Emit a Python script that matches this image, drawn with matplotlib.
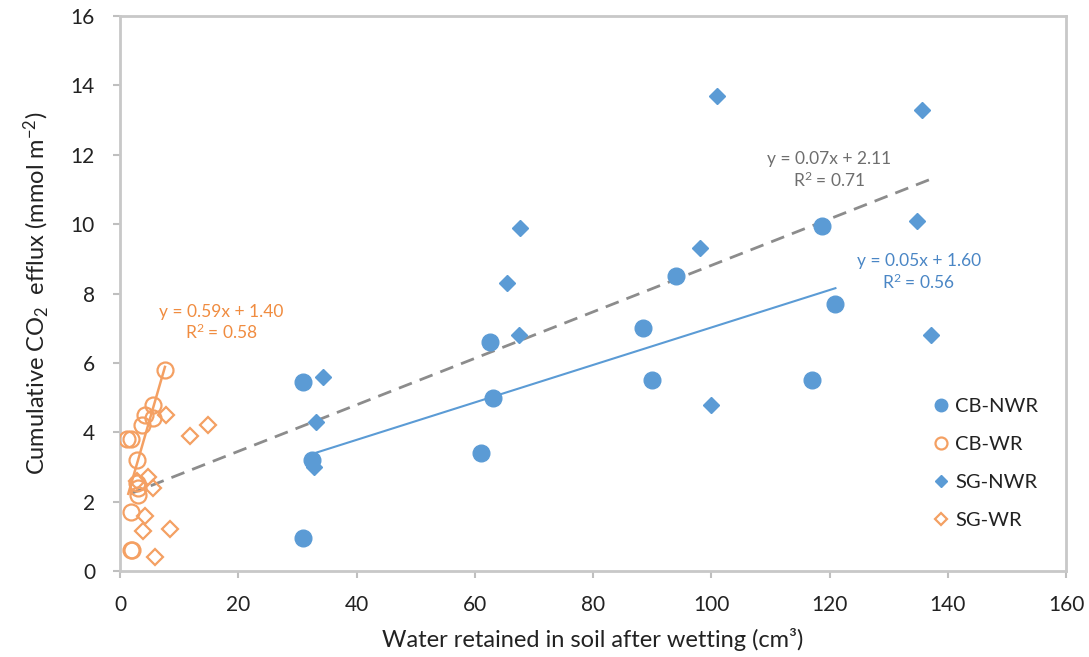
import numpy as np
import matplotlib
matplotlib.use("Agg")
import matplotlib.pyplot as plt

plt.rcParams['font.family'] = ['Lato', 'DejaVu Sans']
plt.rcParams['mathtext.default'] = 'regular'

# data
cb_nwr_x = [31, 31, 32.5, 61, 62.5, 63, 88.5, 90, 94, 117, 118.7, 121]
cb_nwr_y = [0.95, 5.45, 3.2, 3.4, 6.6, 5.0, 7.0, 5.5, 8.5, 5.5, 9.95, 7.7]

cb_wr_x = [7.6, 5.6, 4.2, 5.6, 3.7, 1.2, 1.9, 2.8, 2.8, 3.0, 3.0, 1.8, 1.9, 2.1]
cb_wr_y = [5.8, 4.8, 4.5, 4.4, 4.2, 3.8, 3.8, 3.2, 2.55, 2.4, 2.2, 1.7, 0.6, 0.6]

sg_nwr_x = [33.2, 32.8, 34.3, 65.5, 67.6, 67.5, 98.1, 100, 101, 134.8, 135.6, 137.2]
sg_nwr_y = [4.3, 3.0, 5.6, 8.3, 9.9, 6.8, 9.3, 4.8, 13.7, 10.1, 13.3, 6.8]

sg_wr_x = [7.8, 11.8, 14.8, 4.8, 5.6, 4.2, 3.9, 8.4, 5.9, 2.8]
sg_wr_y = [4.5, 3.9, 4.2, 2.7, 2.4, 1.6, 1.15, 1.2, 0.4, 2.6]

# trendlines as drawn (slope, intercept, x from, x to)
trend_all = (0.067, 2.11, 1.7, 137.3)
trend_cb_nwr = (0.054, 1.62, 32.6, 121)
trend_cb_wr = (0.59, 1.40, 1.4, 7.6)

blue = '#5B9BD5'
orange = '#F4A063'
grey = '#8C8C8C'

fig = plt.figure(figsize=(10.89, 6.57), dpi=100)
ax = fig.add_axes([0.1102, 0.1309, 0.8687, 0.8447])

ax.plot(cb_nwr_x, cb_nwr_y, 'o', ms=12, color=blue, mec=blue, label='CB-NWR', zorder=3)
ax.plot(cb_wr_x, cb_wr_y, 'o', ms=11.5, mfc='none', mec=orange, mew=1.6, label='CB-WR', zorder=3)
ax.plot(sg_nwr_x, sg_nwr_y, 'D', ms=8.5, color=blue, mec=blue, label='SG-NWR', zorder=3)
ax.plot(sg_wr_x, sg_wr_y, 'D', ms=8, mfc='none', mec=orange, mew=1.6, label='SG-WR', zorder=3)


def trend(p, **kw):
    a, b, x0, x1 = p
    xx = np.array([x0, x1])
    ax.plot(xx, a * xx + b, **kw)


trend(trend_all, color=grey, lw=2, ls=(0, (5, 3)), zorder=2)
trend(trend_cb_nwr, color=blue, lw=1.5, zorder=2)
trend(trend_cb_wr, color=orange, lw=1.8, zorder=2)

ax.text(17.1, 7.15, 'y = 0.59x + 1.40\nR$^2$ = 0.58', color='#F08C40', fontsize=12.5,
        ha='center', va='center', linespacing=1.2)
ax.text(119.9, 11.55, 'y = 0.07x + 2.11\nR$^2$ = 0.71', color='#6E6E6E', fontsize=12.5,
        ha='center', va='center', linespacing=1.2)
ax.text(135.1, 8.6, 'y = 0.05x + 1.60\nR$^2$ = 0.56', color='#4A86C5', fontsize=12.5,
        ha='center', va='center', linespacing=1.2)

ax.set_xlim(0, 160)
ax.set_ylim(0, 16)
ax.set_xticks(range(0, 161, 20))
ax.set_yticks(range(0, 17, 2))
ax.tick_params(labelsize=15, color='#BFBFBF', length=5, width=1.5, labelcolor='#222222')
ax.tick_params(axis='x', pad=12)
ax.tick_params(axis='y', pad=13)
for s in ax.spines.values():
    s.set_color('#C8C8C8')
    s.set_linewidth(2)

ax.set_xlabel('Water retained in soil after wetting (cm³)', fontsize=17, color='#222222', labelpad=10)
ax.set_ylabel('Cumulative CO$_2$  efflux (mmol m$^{-2}$)', fontsize=17, color='#222222', labelpad=14)

leg = ax.legend(loc='upper left', bbox_to_anchor=(0.84, 0.345), frameon=False, fontsize=14.5,
                labelspacing=1.05, handlelength=0.8, handletextpad=0.3, markerscale=0.75)
for t in leg.get_texts():
    t.set_color('#222222')

fig.savefig('out.png', dpi=100)
